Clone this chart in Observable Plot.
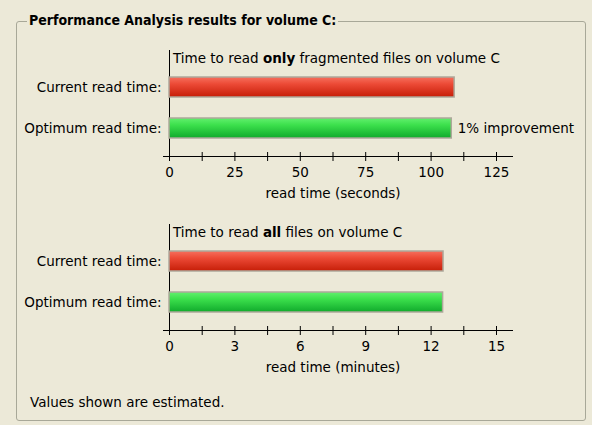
<!DOCTYPE html>
<html><head><meta charset="utf-8">
<script src="https://cdn.jsdelivr.net/npm/d3@7"></script>
<script src="https://cdn.jsdelivr.net/npm/@observablehq/plot@0.6"></script>
<style>
body{margin:0;background:#ECE9D8;font-family:"DejaVu Sans",sans-serif;font-size:13.5px;color:#000;}
#page{position:relative;width:592px;height:425px;overflow:hidden;}
.box{position:absolute;left:16px;top:21px;width:570px;height:400px;border:1px solid #A8A898;border-radius:3px;box-sizing:border-box;}
.legend{position:absolute;left:27px;top:12px;padding:0 2px;background:#ECE9D8;font-family:"DejaVu Sans Condensed","DejaVu Sans",sans-serif;font-weight:bold;font-size:14px;line-height:16px;white-space:nowrap;}
.title{position:absolute;left:173px;line-height:16px;white-space:nowrap;}
.chart{position:absolute;left:0;}
.foot{position:absolute;left:30px;top:394px;line-height:16px;}
</style></head>
<body>
<svg width="0" height="0" style="position:absolute">
  <defs>
    <linearGradient id="gradRed" x1="0" y1="0" x2="0" y2="1">
      <stop offset="0%" stop-color="#F6705E"/>
      <stop offset="35%" stop-color="#EC4A36"/>
      <stop offset="100%" stop-color="#C61E08"/>
    </linearGradient>
    <linearGradient id="gradGreen" x1="0" y1="0" x2="0" y2="1">
      <stop offset="0%" stop-color="#62F06E"/>
      <stop offset="35%" stop-color="#3CE04C"/>
      <stop offset="100%" stop-color="#10AA2C"/>
    </linearGradient>
  </defs>
</svg>
<div id="page">
  <div class="box"></div>
  <div class="legend" id="legend"></div>
  <div class="title" id="t1" style="top:50px"></div>
  <div class="chart" id="c1" style="top:40px"></div>
  <div class="title" id="t2" style="top:224px"></div>
  <div class="chart" id="c2" style="top:214px"></div>
  <div class="foot" id="foot"></div>
</div>
<script>
const panelTitle = "Performance Analysis results for volume C:";
const chartTitles = [
  ["Time to read ", "only", " fragmented files on volume C"],
  ["Time to read ", "all", " files on volume C"]
];
const footNote = "Values shown are estimated.";
const categories = ["Current read time:", "Optimum read time:"];
const fragSeconds = [109, 107.9];
const allMinutes = [12.57, 12.55];
const improvementText = ["", "1% improvement"];
const secTicks = [0, 12.5, 25, 37.5, 50, 62.5, 75, 87.5, 100, 112.5, 125];
const secLabels = [0, 25, 50, 75, 100, 125];
const minTicks = [0, 1.5, 3, 4.5, 6, 7.5, 9, 10.5, 12, 13.5, 15];
const minLabels = [0, 3, 6, 9, 12, 15];
const axisLabels = ["read time (seconds)", "read time (minutes)"];
const fills = ["url(#gradRed)", "url(#gradGreen)"];

document.getElementById("legend").textContent = panelTitle;
document.getElementById("foot").textContent = footNote;
function setTitle(id, parts) {
  const el = document.getElementById(id);
  el.append(document.createTextNode(parts[0]));
  const b = document.createElement("b"); b.textContent = parts[1]; el.append(b);
  el.append(document.createTextNode(parts[2]));
}
setTitle("t1", chartTitles[0]);
setTitle("t2", chartTitles[1]);

function chart(values, ticks, labels, axisLabel, notes) {
  const rows = categories.map((c, i) => ({label: c, value: values[i], fill: fills[i], note: notes[i]}));
  return Plot.plot({
    width: 592, height: 160,
    marginLeft: 169, marginRight: 96, marginTop: 10, marginBottom: 44,
    style: {background: "transparent", fontFamily: "DejaVu Sans, sans-serif", fontSize: "13.5px", color: "#000", overflow: "visible"},
    x: {domain: [ticks[0], ticks[ticks.length - 1]]},
    y: {domain: categories, range: [26.25, 109.25], paddingInner: 0.518, paddingOuter: 0.259},
    marks: [
      Plot.frame({anchor: "bottom", insetLeft: -6, insetRight: -16, stroke: "#000"}),
      Plot.frame({anchor: "left", stroke: "#000"}),
      ...rows.map(r => Plot.barX([r], {x: "value", y: "label", fill: r.fill, stroke: "#ADA89A", strokeWidth: 1.5})),
      Plot.axisX({ticks, tickSize: 5, tickPadding: 6, tickFormat: d => labels.includes(d) ? String(d) : "",
        label: axisLabel, labelAnchor: "center", labelArrow: "none", labelOffset: 41}),
      Plot.axisX({ticks, tickSize: -4, tickFormat: () => "", label: null}),
      Plot.axisY({tickSize: 0, tickPadding: 8, label: null}),
      Plot.text(rows.filter(r => r.note), {x: "value", y: "label", text: "note", dx: 6, textAnchor: "start", fill: "#000"})
    ]
  });
}
document.getElementById("c1").append(chart(fragSeconds, secTicks, secLabels, axisLabels[0], improvementText));
document.getElementById("c2").append(chart(allMinutes, minTicks, minLabels, axisLabels[1], ["", ""]));
</script>
</body></html>
